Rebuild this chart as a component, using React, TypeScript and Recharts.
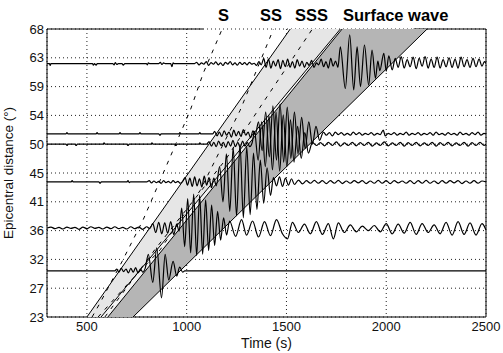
import React from "react";
import { ScatterChart, Scatter, XAxis, YAxis, CartesianGrid, ReferenceLine } from "recharts";

type Pt = [number, number];

const xTicks = [500, 1000, 1500, 2000, 2500];
const yTicks = [23, 27.5, 32, 36.5, 41, 45.5, 50, 54.5, 59, 63.5, 68];
const phaseLabels = ["S", "SS", "SSS", "Surface wave"];

// window edges (time s, distance deg)
const edgeA: Pt[] = [[500, 23], [1519, 68]];
const edgeB: Pt[] = [[571, 23], [1770, 68]];
const edgeC: Pt[] = [[605, 23], [1779, 68]];
const edgeD: Pt[] = [[731, 23], [2205, 68]];

// arrival curves
const sArrival: Pt[] = [[526, 23], [566, 25.2], [675, 31.6], [782, 38.2], [1018, 55.3], [1083, 61.1], [1178, 68]];
const ssArrival: Pt[] = [[556, 23], [700, 28], [867, 33.5], [1068, 42.8], [1268, 55.3], [1435, 68]];
const sssArrival: Pt[] = [[590, 23], [840, 33.5], [1193, 47.5], [1385, 56.6], [1630, 68]];

const trace62: Pt[] = [
  [300, 62.6], [312, 62.6], [316, 62.3], [320, 62.6], [528, 62.6], [532, 62.35], [538, 62.6], [546, 62.35], [552, 62.6],
  [630, 62.6], [636, 62.4], [642, 62.75], [650, 62.45], [658, 62.6], [676, 62.6], [682, 62.35], [690, 62.6],
  [798, 62.6], [803, 62.4], [808, 62.7], [814, 62.6], [860, 62.6], [868, 62.8], [876, 62.45], [884, 62.7], [892, 62.6],
  [920, 62.6], [926, 62.1], [932, 62.7], [938, 62.6], [1040, 62.6],
  [1050, 62.8], [1062, 62.4], [1074, 62.7], [1086, 62.5], [1098, 62.9], [1110, 62.3], [1122, 62.75], [1134, 62.5],
  [1146, 62.85], [1158, 62.4], [1170, 62.7], [1182, 62.3], [1194, 62.8], [1206, 62.5], [1218, 62.9], [1230, 62.4],
  [1242, 62.7], [1254, 62.35], [1266, 62.8], [1278, 62.45], [1290, 62.75], [1302, 62.4], [1314, 62.8], [1326, 62.5],
  [1338, 62.65], [1350, 62.3], [1362, 62.9], [1374, 62.4],
  [1386, 63.4], [1398, 62.0], [1410, 63.3], [1422, 61.9], [1434, 63.0], [1446, 62.2], [1458, 63.2], [1470, 61.8],
  [1482, 63.1], [1494, 62.1], [1506, 63.3], [1518, 62.0], [1530, 62.9], [1542, 61.9], [1554, 63.2], [1566, 62.2],
  [1578, 63.0], [1590, 62.0], [1602, 62.8], [1614, 62.3], [1626, 63.1], [1638, 62.0], [1650, 62.7], [1662, 62.4],
  [1674, 63.3], [1686, 62.1], [1698, 62.9], [1710, 61.9], [1722, 63.4], [1734, 62.2], [1746, 63.0], [1758, 62.0],
  [1770, 65.2], [1795, 58.7], [1817, 67.1], [1837, 58.5], [1854, 65.2], [1871, 59.0], [1891, 65.5], [1912, 59.25],
  [1929, 64.7], [1946, 60.3], [1958, 63.0], [1968, 61.5], [1988, 64.2], [2000, 61.4], [2013, 63.8], [2030, 61.6],
  [2045, 63.4], [2060, 62.0], [2075, 63.7], [2090, 61.9], [2105, 63.2], [2120, 62.1], [2135, 63.6], [2150, 61.8],
  [2165, 63.4], [2180, 62.2], [2195, 63.7], [2210, 61.9], [2225, 63.3], [2240, 62.0], [2255, 63.6], [2270, 61.9],
  [2285, 63.2], [2300, 62.1], [2315, 63.5], [2330, 62.0], [2345, 63.3], [2360, 61.9], [2375, 63.6], [2390, 62.1],
  [2405, 63.2], [2420, 62.0], [2435, 63.4], [2450, 62.1], [2465, 63.3], [2480, 62.2], [2492, 62.9], [2500, 62.6],
];

const trace52: Pt[] = [
  [300, 51.6], [395, 51.6], [400, 51.8], [405, 51.6], [545, 51.6], [551, 51.8], [557, 51.6], [660, 51.6], [666, 51.8],
  [672, 51.6], [760, 51.6], [766, 51.8], [772, 51.6], [860, 51.6], [866, 51.4], [872, 51.6], [960, 51.6], [966, 51.8],
  [972, 51.6], [1060, 51.6], [1066, 51.8], [1072, 51.6], [1130, 51.6],
  [1140, 52.0], [1152, 51.3], [1164, 51.9], [1176, 51.2], [1188, 52.1], [1200, 51.4], [1212, 51.9], [1224, 51.1],
  [1236, 52.2], [1248, 51.3], [1260, 52.0], [1272, 51.2], [1284, 52.3], [1296, 51.4], [1308, 51.9], [1320, 51.0],
  [1332, 52.1], [1344, 51.5],
  [1360, 53.5], [1378, 49.0], [1396, 55.0], [1414, 48.0], [1432, 56.0], [1450, 47.5], [1468, 56.3], [1486, 47.2],
  [1504, 55.8], [1522, 47.8], [1540, 55.0], [1558, 48.5], [1576, 54.2], [1594, 49.3], [1612, 53.5], [1630, 50.0],
  [1648, 52.8], [1666, 50.6],
  [1685, 51.9], [1700, 51.4], [1715, 51.8], [1730, 51.3], [1745, 51.9], [1760, 51.5], [1775, 51.8], [1790, 51.4],
  [1805, 51.7], [1820, 51.4], [1835, 51.9], [1850, 51.5], [1865, 51.8], [1880, 51.4], [1895, 51.7], [1910, 51.5],
  [1925, 51.8], [1940, 51.4], [1955, 51.7], [1970, 51.5], [1985, 52.2], [1995, 51.3], [2010, 51.7], [2025, 51.5],
  [2040, 51.8], [2055, 51.4], [2070, 51.7], [2085, 51.5], [2100, 51.9], [2115, 51.4], [2130, 51.7], [2145, 51.5],
  [2160, 51.8], [2175, 51.4], [2190, 51.7], [2205, 51.5], [2220, 51.8], [2235, 51.4], [2250, 51.9], [2265, 51.5],
  [2280, 51.7], [2295, 51.4], [2310, 51.8], [2325, 51.5], [2340, 51.7], [2355, 51.4], [2370, 51.9], [2385, 51.5],
  [2400, 51.7], [2415, 51.4], [2430, 51.8], [2445, 51.5], [2460, 51.9], [2475, 51.4], [2490, 51.7], [2500, 51.6],
];

const trace50: Pt[] = [
  [300, 50.0], [395, 50.0], [400, 49.8], [406, 50.0], [440, 50.0], [446, 49.8], [452, 50.0], [580, 50.0], [586, 50.2],
  [592, 50.0], [700, 50.0], [706, 49.8], [712, 50.0], [820, 50.0], [826, 50.2], [832, 50.0], [940, 50.0], [946, 49.8],
  [952, 50.0], [1060, 50.0], [1066, 50.2], [1072, 50.0], [1100, 50.0],
  [1112, 50.4], [1124, 49.7], [1136, 50.3], [1148, 49.6], [1160, 50.5], [1172, 49.8], [1184, 50.3], [1196, 49.5],
  [1208, 50.4], [1220, 49.7], [1232, 50.6], [1244, 49.6], [1256, 50.3], [1268, 49.5], [1280, 50.5], [1292, 49.7],
  [1304, 50.3], [1316, 49.6], [1328, 50.2],
  [1340, 52.0], [1358, 47.5], [1376, 53.5], [1394, 46.5], [1412, 54.5], [1430, 46.0], [1448, 55.0], [1466, 45.8],
  [1484, 54.6], [1502, 46.5], [1520, 53.8], [1538, 47.2], [1556, 52.8], [1574, 47.8], [1592, 51.8], [1610, 48.6],
  [1630, 50.3], [1650, 49.8], [1670, 50.25], [1690, 49.75], [1710, 50.3], [1730, 49.8], [1750, 50.35], [1770, 49.7],
  [1790, 50.2], [1810, 49.8], [1830, 50.3], [1850, 49.75], [1870, 50.25], [1890, 49.8], [1910, 50.3], [1930, 49.7],
  [1950, 50.2], [1970, 49.8], [1990, 50.35], [2010, 49.75], [2030, 50.2], [2050, 49.8], [2070, 50.3], [2090, 49.7],
  [2110, 50.25], [2130, 49.8], [2150, 50.3], [2170, 49.75], [2190, 50.2], [2210, 49.8], [2230, 50.3], [2250, 49.7],
  [2270, 50.25], [2290, 49.8], [2310, 50.3], [2330, 49.75], [2350, 50.2], [2370, 49.8], [2390, 50.3], [2410, 49.7],
  [2430, 50.25], [2450, 49.8], [2470, 50.3], [2490, 49.8], [2500, 50.0],
];

const trace44: Pt[] = [
  [300, 44.1], [420, 44.1], [426, 44.3], [432, 44.1], [560, 44.1], [566, 43.9], [572, 44.1], [700, 44.1], [706, 44.3],
  [712, 44.0], [718, 44.1], [800, 44.1], [812, 44.3], [824, 43.95], [836, 44.25], [848, 44.0], [860, 44.2], [872, 43.9],
  [884, 44.3], [896, 44.0], [908, 44.2], [920, 43.95], [932, 44.3], [944, 44.0], [956, 44.2], [968, 43.9], [980, 44.2],
  [992, 44.8], [1004, 43.6], [1016, 44.7], [1028, 43.4], [1040, 44.9], [1052, 43.5], [1064, 44.6], [1076, 43.3],
  [1088, 45.0], [1100, 43.6], [1112, 44.8], [1124, 43.2], [1136, 44.7], [1148, 43.5],
  [1165, 46.5], [1182, 41.0], [1199, 48.5], [1216, 39.5], [1233, 49.5], [1250, 38.8], [1267, 50.0], [1284, 38.5],
  [1301, 49.6], [1318, 39.0], [1335, 48.6], [1352, 39.8], [1369, 47.5], [1386, 40.8], [1403, 46.3], [1420, 42.0],
  [1435, 44.8], [1450, 43.5], [1465, 44.9], [1480, 43.4], [1495, 44.7], [1510, 43.6], [1525, 44.6], [1540, 43.7],
  [1560, 44.4], [1580, 43.8], [1600, 44.3], [1620, 43.9], [1640, 44.35], [1660, 43.9], [1680, 44.3], [1700, 43.85],
  [1720, 44.3], [1740, 43.9], [1760, 44.35], [1780, 43.85], [1800, 44.25], [1820, 43.9], [1840, 44.3], [1860, 43.95],
  [1880, 44.3], [1900, 43.85], [1920, 44.25], [1940, 43.9], [1960, 44.35], [1980, 43.9], [2000, 44.3], [2020, 43.85],
  [2040, 44.3], [2060, 43.95], [2080, 44.25], [2100, 43.9], [2120, 44.3], [2140, 43.85], [2160, 44.3], [2180, 43.9],
  [2200, 44.35], [2220, 43.9], [2240, 44.25], [2260, 43.85], [2280, 44.3], [2300, 43.9], [2320, 44.3], [2340, 43.95],
  [2360, 44.3], [2380, 43.85], [2400, 44.25], [2420, 43.9], [2440, 44.3], [2460, 43.9], [2480, 44.25], [2500, 44.1],
];

const trace37: Pt[] = [
  [300, 36.9], [320, 37.05], [340, 36.8], [360, 37.0], [380, 36.75], [400, 37.05], [420, 36.85], [440, 37.0], [460, 36.7],
  [480, 37.05], [500, 36.8], [520, 37.1], [540, 36.85], [560, 37.0], [580, 36.75], [600, 37.05], [620, 36.8], [640, 37.1],
  [660, 36.8], [680, 37.0], [700, 36.75], [720, 37.1], [740, 36.8], [760, 37.05], [780, 36.7], [800, 37.1], [815, 36.8],
  [830, 37.6], [845, 36.2], [860, 37.8], [875, 36.0], [890, 37.7], [905, 36.1], [920, 37.9], [935, 35.9], [950, 37.5],
  [962, 36.4],
  [975, 40.0], [990, 34.0], [1005, 41.5], [1020, 33.0], [1035, 42.2], [1050, 32.6], [1065, 42.0], [1080, 32.8],
  [1095, 41.3], [1110, 33.4], [1125, 40.5], [1140, 34.2], [1155, 39.5], [1170, 35.0], [1185, 38.5], [1200, 35.8],
  [1215, 38.0], [1245, 35.6], [1275, 38.2], [1300, 35.8], [1330, 38.0], [1360, 35.5], [1390, 37.9], [1420, 35.7],
  [1450, 38.2], [1480, 36.0], [1505, 35.2], [1530, 37.8], [1560, 36.2], [1590, 37.5], [1620, 36.0], [1650, 37.9],
  [1680, 35.9], [1710, 37.6], [1735, 35.2], [1760, 37.7], [1790, 36.2], [1820, 37.4], [1850, 36.3], [1880, 37.2],
  [1910, 36.5], [1940, 37.3], [1970, 36.3], [2000, 37.6], [2030, 36.0], [2060, 37.5], [2090, 36.1], [2120, 37.8],
  [2150, 35.9], [2180, 37.6], [2210, 36.2], [2240, 37.4], [2270, 36.0], [2300, 37.8], [2330, 35.8], [2360, 37.9],
  [2390, 35.9], [2420, 37.7], [2450, 35.8], [2480, 37.6], [2500, 36.6],
];

const trace30: Pt[] = [
  [300, 30.2], [640, 30.2], [650, 30.5], [660, 30.0], [672, 30.6], [684, 30.1], [696, 30.5], [708, 29.9], [720, 30.6],
  [732, 30.0], [744, 30.7], [756, 29.9], [768, 30.5], [780, 30.0], [792, 30.6],
  [808, 32.8], [830, 28.4], [850, 33.8], [874, 26.0], [892, 32.8], [910, 28.8], [932, 31.7], [950, 29.4], [965, 30.8],
  [980, 30.0], [990, 30.2], [2500, 30.2],
];

const traces = [trace62, trace52, trace50, trace44, trace37, trace30];

const toRows = (pts: Pt[]) => pts.map(([t, d]) => ({ t, d }));
const noDot = () => <g />;

const lightBand = toRows([edgeA[1], edgeA[0], edgeB[0], edgeB[1]]);
const strip = toRows([edgeB[1], edgeB[0], edgeC[0], edgeC[1]]);
const darkBand = toRows([edgeC[1], edgeC[0], edgeD[0], edgeD[1]]);

export default function App() {
  return (
    <div
      style={{
        position: "absolute",
        left: 0,
        top: 0,
        width: 503,
        height: 353,
        background: "#fff",
        fontFamily: '"Liberation Sans", Arial, sans-serif',
      }}
    >
      <ScatterChart width={503} height={353} margin={{ top: 29, right: 17, bottom: 0, left: 0 }}>
        <CartesianGrid stroke="#222" strokeDasharray="1 3" />
        <XAxis
          type="number"
          dataKey="t"
          domain={[300, 2500]}
          allowDataOverflow
          ticks={xTicks}
          interval={0}
          height={36}
          tickLine={false}
          tickSize={0}
          tickMargin={5}
          axisLine={{ stroke: "#000" }}
          tick={{ fontSize: 13, fill: "#111" }}
          label={{ value: "Time (s)", position: "insideBottom", offset: 5, fontSize: 14, fill: "#111" }}
        />
        <YAxis
          type="number"
          dataKey="d"
          domain={[23, 68]}
          allowDataOverflow
          ticks={yTicks}
          interval={0}
          width={47}
          tickLine={false}
          tickSize={0}
          tickMargin={3}
          axisLine={{ stroke: "#000" }}
          tick={{ fontSize: 13, fill: "#111" }}
          tickFormatter={(v: number) => String(Math.floor(v))}
          label={{
            value: "Epicentral distance (°)",
            angle: -90,
            position: "insideLeft",
            offset: 8,
            fontSize: 13.5,
            fill: "#111",
            textAnchor: "middle",
            style: { textAnchor: "middle" },
          }}
        />
        <Scatter data={lightBand} shape={noDot} line={{ fill: "#e6e6e6", stroke: "none" }} isAnimationActive={false} />
        <Scatter data={strip} shape={noDot} line={{ fill: "#f3f3f3", stroke: "none" }} isAnimationActive={false} />
        <Scatter data={darkBand} shape={noDot} line={{ fill: "#b5b5b5", stroke: "none" }} isAnimationActive={false} />
        {[edgeA, edgeB, edgeC, edgeD].map((e, i) => (
          <Scatter key={"e" + i} data={toRows(e)} shape={noDot} line={{ stroke: "#000", strokeWidth: 1 }} isAnimationActive={false} />
        ))}
        {[sArrival, ssArrival, sssArrival].map((a, i) => (
          <Scatter
            key={"a" + i}
            data={toRows(a)}
            shape={noDot}
            line={{ stroke: "#000", strokeWidth: 1, strokeDasharray: "4 6" }}
            isAnimationActive={false}
          />
        ))}
        {traces.map((tr, i) => (
          <Scatter
            key={"t" + i}
            data={toRows(tr)}
            shape={noDot}
            line={{ stroke: "#000", strokeWidth: 1.2 }}
            lineJointType="monotoneX"
            isAnimationActive={false}
          />
        ))}
        <ReferenceLine x={2500} stroke="#000" />
        <ReferenceLine segment={[{ x: 300, y: 68 }, { x: 1083, y: 68 }]} stroke="#000" />
        <ReferenceLine segment={[{ x: 2137, y: 68 }, { x: 2500, y: 68 }]} stroke="#000" />
      </ScatterChart>
      <svg width={503} height={29} style={{ position: "absolute", left: 0, top: 0 }}>
        {phaseLabels.map((s, i) => (
          <text key={s} x={[218, 260, 295, 343]![i]} y={21} fontSize={16.5} fontWeight="bold" fill="#000">
            {s}
          </text>
        ))}
      </svg>
    </div>
  );
}
